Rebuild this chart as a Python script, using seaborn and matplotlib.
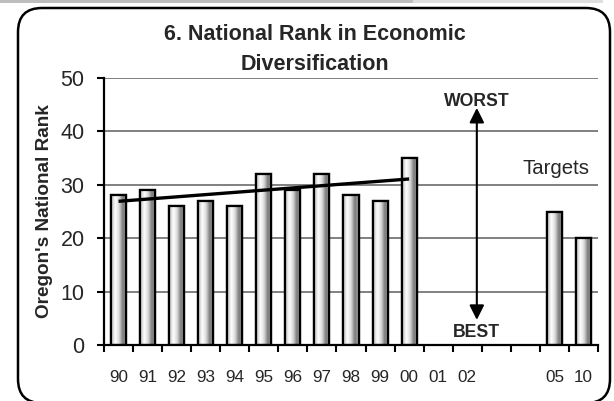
import numpy as np
import pandas as pd
import matplotlib
matplotlib.use("Agg")
import matplotlib.pyplot as plt
import seaborn as sns
from matplotlib.patches import FancyBboxPatch, Rectangle
from matplotlib.colors import LinearSegmentedColormap
from matplotlib.transforms import IdentityTransform

# ---- data ----
categories = ["90", "91", "92", "93", "94", "95", "96", "97", "98", "99", "00",
              "01", "02", "03", "04", "05", "10"]
tick_labels = ["90", "91", "92", "93", "94", "95", "96", "97", "98", "99", "00",
               "01", "02", "", "", "05", "10"]
hist_years = ["90", "91", "92", "93", "94", "95", "96", "97", "98", "99", "00"]
hist_ranks = [28, 29, 26, 27, 26, 32, 29, 32, 28, 27, 35]
target_years = ["05", "10"]
target_ranks = [25, 20]

sns.set_style("white")
plt.rcParams["font.family"] = ["Liberation Sans", "DejaVu Sans"]

W, H = 614, 401
fig = plt.figure(figsize=(W / 100, H / 100), dpi=100)
ax = fig.add_axes([104 / W, 1 - 345 / H, (598 - 104) / W, (345 - 78) / H])

df = pd.DataFrame({"year": hist_years + target_years,
                   "rank": hist_ranks + target_ranks})
sns.barplot(data=df, x="year", y="rank", order=categories, color="white",
            edgecolor="black", linewidth=1.6, width=0.52, ax=ax, zorder=3)

# cylinder-like gradient fill
cmap = LinearSegmentedColormap.from_list(
    "cyl", [(0.0, "#b8b8b8"), (0.28, "#ffffff"), (0.5, "#dcdcdc"),
            (0.75, "#7a7a7a"), (1.0, "#b0b0b0")])
grad = np.linspace(0, 1, 256).reshape(1, -1)
for p in list(ax.patches):
    h = p.get_height()
    if not np.isfinite(h) or h == 0:
        continue
    x0, w = p.get_x(), p.get_width()
    im = ax.imshow(grad, cmap=cmap, extent=[x0, x0 + w, 0, h],
                   aspect="auto", zorder=3.1, interpolation="bilinear")
    im.set_clip_path(p)
    ax.add_patch(Rectangle((x0, 0), w, h, fill=False, edgecolor="black",
                           linewidth=1.6, zorder=3.2))

# linear trend over the historical years
xs = np.arange(len(hist_ranks))
m, b = np.polyfit(xs, hist_ranks, 1)
ax.plot([xs[0], xs[-1]], [m * xs[0] + b, m * xs[-1] + b], color="black",
        lw=2.4, zorder=4, solid_capstyle="butt")

ax.set_xlim(-0.5, len(categories) - 0.5)
ax.set_ylim(0, 50)
ax.set_yticks([0, 10, 20, 30, 40, 50])
ax.yaxis.grid(True, color="#808080", lw=1.4, zorder=0)
ax.set_axisbelow(True)
ax.xaxis.grid(False)

# x ticks at category boundaries, labels at centres
ax.set_xticks(np.arange(-0.5, len(categories), 1))
ax.set_xticklabels([""] * len(np.arange(-0.5, len(categories), 1)))
ax.set_xticks(np.arange(len(categories)), minor=True)
ax.set_xticklabels(tick_labels, minor=True)
ax.tick_params(axis="x", which="major", length=5, width=1.5, direction="out",
               color="black", bottom=True)
ax.tick_params(axis="x", which="minor", length=0, pad=18, labelsize=12.3)
ax.tick_params(axis="y", length=5, width=1.5, direction="out", color="black",
               left=True, pad=9, labelsize=15.5)

for s in ["top", "right"]:
    ax.spines[s].set_visible(False)
for s in ["left", "bottom"]:
    ax.spines[s].set_color("black")
    ax.spines[s].set_linewidth(1.6)
ax.spines["bottom"].set_zorder(5)

ax.set_xlabel("")
ax.set_ylabel("Oregon's National Rank", fontsize=13.7, fontweight="bold",
              labelpad=5)

# WORST/BEST arrow
ax.annotate("", xy=(12.33, 44.4), xytext=(12.33, 4.7),
            arrowprops=dict(arrowstyle="<|-|>", color="black", lw=1.5,
                            mutation_scale=22, shrinkA=0, shrinkB=0),
            zorder=6)
ax.text(12.33, 45.6, "WORST", ha="center", va="center", fontsize=12.7,
        fontweight="bold", zorder=6)
ax.text(12.33, 2.4, "BEST", ha="center", va="center", fontsize=12.7,
        fontweight="bold", zorder=6)
ax.text(15.05, 33, "Targets", ha="center", va="center", fontsize=14.7,
        zorder=6)

# title
fig.text(315 / W, 1 - 34 / H, "6. National Rank in Economic", ha="center",
         va="center", fontsize=15.5, fontweight="bold")
fig.text(315 / W, 1 - 65 / H, "Diversification", ha="center",
         va="center", fontsize=15.5, fontweight="bold")

# rounded frame and top strip (pixel coordinates)
fig.add_artist(Rectangle((0, H - 3), 413, 3, transform=IdentityTransform(),
                         facecolor="#bdbdbd", edgecolor="none"))
fig.add_artist(Rectangle((413, H - 3), 190, 3, transform=IdentityTransform(),
                         facecolor="#dedede", edgecolor="none"))
fig.add_artist(FancyBboxPatch((18, -2), 592, H - 4 + 2 - 4,
                              boxstyle="round,pad=0,rounding_size=24",
                              transform=IdentityTransform(),
                              facecolor="none", edgecolor="black", lw=1.8))

fig.savefig("out.png", dpi=100)
